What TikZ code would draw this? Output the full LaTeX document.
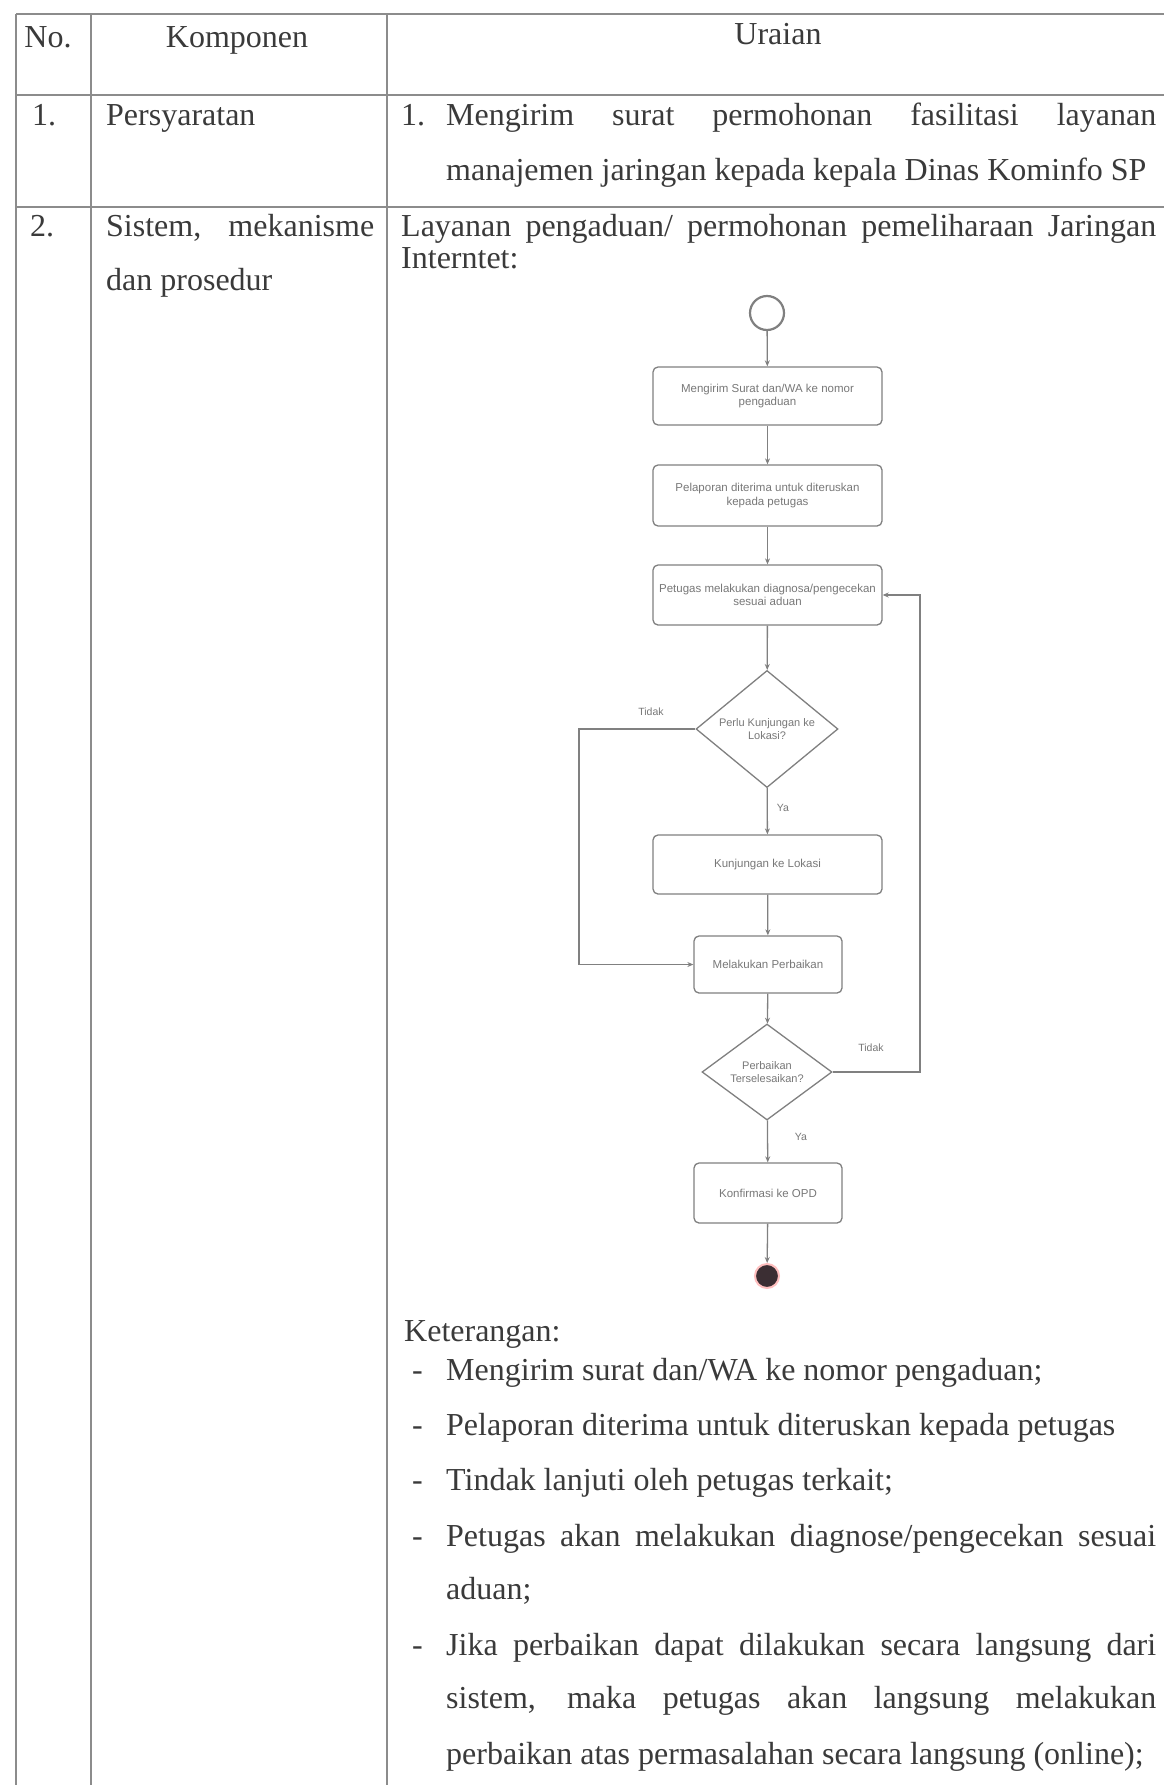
\documentclass[tikz,border=0pt]{standalone}
\usepackage{fontspec}
\setmainfont{Liberation Serif}
\newfontfamily\flowfont{Liberation Sans}
\usetikzlibrary{shapes.geometric,arrows.meta}
\definecolor{ink}{HTML}{3A3A3A}
\definecolor{rulec}{HTML}{8C8C8C}
\definecolor{fline}{HTML}{808080}
\definecolor{ftext}{HTML}{787878}
\definecolor{endc}{HTML}{3B2E33}
\begin{document}
\begin{tikzpicture}[x=1pt,y=-1pt,
  txt/.style={anchor=base west, inner sep=0pt, text=ink, font=\fontsize{32}{38}\selectfont},
  ctxt/.style={anchor=base, inner sep=0pt, text=ink, font=\fontsize{32}{38}\selectfont},
  tline/.style={draw=rulec, line width=2pt},
  fbox/.style={draw=fline, line width=1.3pt, rounded corners=5pt, fill=white, text=ftext,
    font=\flowfont\fontsize{11.5}{13.5}\selectfont, align=center, inner sep=1pt},
  fdia/.style={diamond, draw=fline, line width=1.3pt, fill=white, inner sep=0pt, text=ftext,
    font=\flowfont\fontsize{11}{13}\selectfont, align=center},
  flab/.style={text=ftext, font=\flowfont\fontsize{10.5}{12}\selectfont, inner sep=0pt},
  farr/.style={draw=fline, line width=1.3pt, -{Stealth[length=6pt,width=5pt]}}
]
\useasboundingbox (0,0) rectangle (1164,1785);
\fill[white] (0,0) rectangle (1164,1785);

% table rules
\draw[tline] (16,14) -- (1164,14);
\draw[tline] (16,95) -- (1164,95);
\draw[tline] (16,207) -- (1164,207);
\draw[tline] (16,14) -- (16,1785);
\draw[tline] (91,14) -- (91,1785);
\draw[tline] (387,14) -- (387,1785);

% header
\node[ctxt] (hno) at (48,48) {No.};
\node[ctxt] (hkomp) at (237,48) {Komponen};
\node[ctxt] (hur) at (778,45) {Uraian};

% row 1
\node[txt] (r1no) at (32,125) {1.};
\node[txt] (r1komp) at (106,125) {Persyaratan};
\node[txt] (r1num) at (401,125) {1.};
\node[txt] (r1a) at (446,125) {\makebox[710pt][s]{Mengirim surat permohonan fasilitasi layanan}};
\node[txt] (r1b) at (446,180) {manajemen jaringan kepada kepala Dinas Kominfo SP};

% row 2
\node[txt] (r2no) at (30,236) {2.};
\node[txt] (r2ka) at (106,236) {\makebox[268pt][s]{Sistem, mekanisme}};
\node[txt] (r2kb) at (106,290) {dan prosedur};
\node[txt] (r2a) at (401,236) {\makebox[755pt][s]{Layanan pengaduan/ permohonan pemeliharaan Jaringan}};
\node[txt] (r2b) at (401,268) {Interntet:};

% flowchart
\node[circle, draw=fline, line width=2.2pt, minimum size=34pt, inner sep=0pt] (start) at (767,313) {};
\node[fbox, minimum width=229pt, minimum height=58pt] (b1) at (767.5,396) {Mengirim Surat dan/WA ke nomor\\pengaduan};
\node[fbox, minimum width=229pt, minimum height=61pt] (b2) at (767.5,495.5) {Pelaporan diterima untuk diteruskan\\kepada petugas};
\node[fbox, minimum width=229pt, minimum height=60pt] (b3) at (767.5,595) {Petugas melakukan diagnosa/pengecekan\\sesuai aduan};
\node[fdia, minimum width=142pt, minimum height=104pt] (d1) at (767,729) {Perlu Kunjungan ke\\Lokasi?};
\node[fbox, minimum width=229pt, minimum height=59pt] (b4) at (767.5,864.5) {Kunjungan ke Lokasi};
\node[fbox, minimum width=148pt, minimum height=57pt] (b5) at (768,964.5) {Melakukan Perbaikan};
\node[fdia, minimum width=130pt, minimum height=96pt] (d2) at (767,1072) {Perbaikan\\Terselesaikan?};
\node[fbox, minimum width=148pt, minimum height=60pt] (b6) at (768,1193) {Konfirmasi ke OPD};
\node[circle, fill=endc, draw=red!25, line width=2pt, minimum size=24pt, inner sep=0pt] (end) at (767,1276) {};

\coordinate (l1) at (579,729);
\coordinate (r2) at (920,1072);

\draw[farr] (start) -- (b1);
\draw[farr] (b1) -- (b2);
\draw[farr] (b2) -- (b3);
\draw[farr] (b3) -- (d1);
\draw[farr] (d1) -- (b4);
\draw[farr] (b4) -- (b5);
\draw[farr] (b5) -- (d2);
\draw[farr] (d2) -- (b6);
\draw[farr] (b6) -- (end);
\draw[farr] (d1.west) -- (l1) |- (b5.west);
\draw[farr] (d2.east) -- (r2) |- (b3.east);

\node[flab] (t1) at (651,712) {Tidak};
\node[flab] (y1) at (783,808) {Ya};
\node[flab] (t2) at (871,1048) {Tidak};
\node[flab] (y2) at (801,1137) {Ya};

% keterangan
\node[txt] (ket) at (404,1341) {Keterangan:};
\node[txt] (k1d) at (412,1380) {-};
\node[txt] (k1) at (446,1380) {Mengirim surat dan/WA ke nomor pengaduan;};
\node[txt] (k2d) at (412,1435) {-};
\node[txt] (k2) at (446,1435) {Pelaporan diterima untuk diteruskan kepada petugas};
\node[txt] (k3d) at (412,1490) {-};
\node[txt] (k3) at (446,1490) {Tindak lanjuti oleh petugas terkait;};
\node[txt] (k4d) at (412,1546) {-};
\node[txt] (k4a) at (446,1546) {\makebox[710pt][s]{Petugas akan melakukan diagnose/pengecekan sesuai}};
\node[txt] (k4b) at (446,1599) {aduan;};
\node[txt] (k5d) at (412,1655) {-};
\node[txt] (k5a) at (446,1655) {\makebox[710pt][s]{Jika perbaikan dapat dilakukan secara langsung dari}};
\node[txt] (k5b) at (446,1708) {\makebox[710pt][s]{sistem, maka petugas akan langsung melakukan}};
\node[txt] (k5c) at (446,1764) {perbaikan atas permasalahan secara langsung (online);};
\end{tikzpicture}
\end{document}
